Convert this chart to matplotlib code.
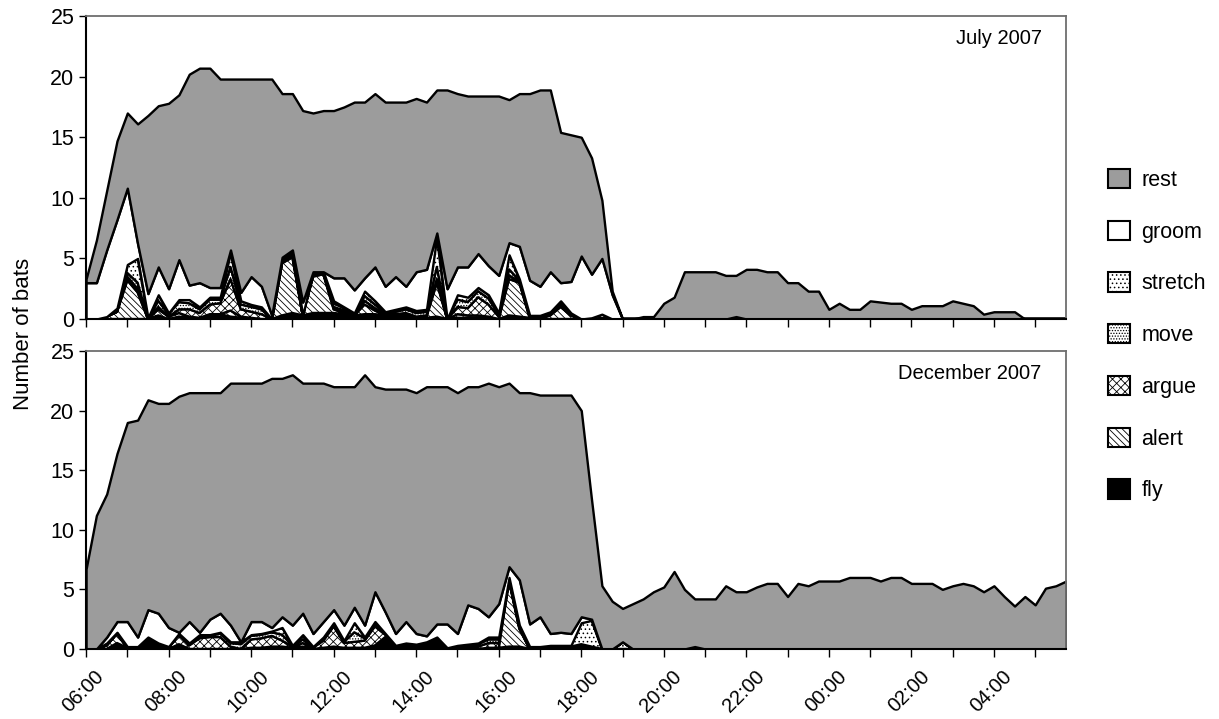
import matplotlib.pyplot as plt
import numpy as np
from matplotlib.patches import Patch
from matplotlib.transforms import ScaledTranslation

plt.rcParams['font.family'] = ['Liberation Sans', 'DejaVu Sans']
plt.rcParams['hatch.linewidth'] = 0.6
plt.rcParams['hatch.color'] = '#333333'

# 15-minute samples, hours after 06:00
hours = np.arange(96) * 0.25

# ---- July 2007 ----
jul_fly = [0, 0, 0, 0, 0, 0, 0, 0.3, 0, 0.2,
           0.1, 0.1, 0.4, 0.4, 0.2, 0.1, 0.1, 0, 0, 0.3,
           0.5, 0.3, 0.5, 0.5, 0.5, 0.4, 0.3, 0.4, 0.4, 0.3,
           0.2, 0.2, 0.1, 0.1, 0.2, 0, 0.1, 0.1, 0.1, 0.1,
           0, 0.3, 0.2, 0.1, 0.1, 0, 0, 0, 0, 0,
           0, 0, 0, 0, 0, 0, 0, 0, 0, 0,
           0, 0, 0, 0, 0, 0, 0, 0, 0, 0,
           0, 0, 0, 0, 0, 0, 0, 0, 0, 0,
           0, 0, 0, 0, 0, 0, 0, 0, 0, 0,
           0, 0, 0, 0, 0, 0]
jul_alert = [0, 0, 0.2, 0.6, 3.2, 2.2, 0, 0.5, 0.2, 0.3,
             0.1, 0, 0, 0, 0.5, 0.1, 0, 0, 0, 4.3,
             4.6, 0, 3.0, 3.2, 0.3, 0.1, 0, 0.8, 0.3, 0,
             0.1, 0.1, 0, 0.1, 2.8, 0, 0.3, 0.2, 0.2, 0.1,
             0, 3.0, 2.8, 0, 0, 0.3, 1.0, 0.3, 0, 0,
             0.1, 0, 0, 0, 0, 0, 0, 0, 0, 0,
             0, 0, 0, 0, 0, 0, 0, 0, 0, 0,
             0, 0, 0, 0, 0, 0, 0, 0, 0, 0,
             0, 0, 0, 0, 0, 0, 0, 0, 0, 0,
             0, 0, 0, 0, 0, 0]
jul_argue = [0, 0, 0, 0, 0.3, 0.3, 0, 0.2, 0, 0.3,
             0.6, 0.4, 0.8, 0.9, 2.6, 0.6, 0.5, 0.4, 0, 0.1,
             0.2, 0, 0.1, 0.1, 0.2, 0.2, 0, 0.3, 0.2, 0.1,
             0.1, 0.2, 0.1, 0.1, 0.3, 0, 0.6, 0.6, 1.5, 1.0,
             0.2, 0.3, 0.1, 0.1, 0, 0.1, 0.1, 0, 0, 0,
             0, 0, 0, 0, 0, 0, 0, 0, 0, 0,
             0, 0, 0, 0, 0, 0, 0, 0, 0, 0,
             0, 0, 0, 0, 0, 0, 0, 0, 0, 0,
             0, 0, 0, 0, 0, 0, 0, 0, 0, 0,
             0, 0, 0, 0, 0, 0]
jul_move = [0, 0, 0, 0, 0.3, 0.5, 0, 0.5, 0.2, 0.6,
            0.5, 0.3, 0.4, 0.3, 1.0, 0.4, 0.4, 0.4, 0, 0.1,
            0.2, 0, 0.1, 0.1, 0.3, 0.2, 0.1, 0.4, 0.3, 0.1,
            0.2, 0.3, 0.3, 0.3, 1.0, 0, 0.6, 0.5, 0.5, 0.5,
            0.2, 0.5, 0.1, 0.1, 0.1, 0.1, 0.2, 0.1, 0, 0,
            0, 0, 0, 0, 0, 0, 0, 0, 0, 0,
            0, 0, 0, 0, 0, 0, 0, 0, 0, 0,
            0, 0, 0, 0, 0, 0, 0, 0, 0, 0,
            0, 0, 0, 0, 0, 0, 0, 0, 0, 0,
            0, 0, 0, 0, 0, 0]
jul_stretch = [0, 0, 0, 0.3, 0.7, 2.0, 0.1, 0.5, 0.1, 0.2,
               0.3, 0.2, 0.2, 0.2, 1.2, 0.3, 0.2, 0.2, 0, 0.2,
               0.1, 0, 0.2, 0, 0.2, 0.1, 0.1, 0.4, 0.3, 0.1,
               0.2, 0.2, 0.2, 0.2, 2.5, 0, 0.4, 0.4, 0.3, 0.3,
               0.1, 1.2, 0.1, 0, 0.1, 0.1, 0.2, 0.1, 0, 0.1,
               0.3, 0, 0, 0, 0, 0, 0, 0, 0, 0,
               0, 0, 0, 0.2, 0, 0, 0, 0, 0, 0,
               0, 0, 0, 0, 0, 0, 0, 0, 0, 0,
               0, 0, 0, 0, 0, 0, 0, 0, 0, 0,
               0, 0, 0, 0, 0, 0]
jul_groom = [3.0, 3.0, 5.5, 7.3, 6.3, 1.2, 2.0, 2.3, 2.0, 3.3,
             1.2, 2.0, 0.8, 0.8, 0.2, 0.7, 2.3, 1.7, 0.3, 0.1,
             0.1, 1.1, 0, 0, 1.9, 2.4, 1.9, 1.1, 2.8, 2.1,
             2.7, 1.7, 3.2, 3.3, 0.3, 2.5, 2.3, 2.5, 2.8, 2.4,
             3.1, 1.0, 2.7, 2.9, 2.4, 3.3, 1.5, 2.6, 5.2, 3.6,
             4.6, 2.0, 0, 0, 0, 0, 0, 0, 0, 0,
             0, 0, 0, 0, 0, 0, 0, 0, 0, 0,
             0, 0, 0, 0, 0, 0, 0, 0, 0, 0,
             0, 0, 0, 0, 0, 0, 0, 0, 0, 0,
             0, 0, 0, 0, 0, 0]
jul_rest = [0.3, 3.5, 4.9, 6.5, 6.2, 9.9, 14.7, 13.3, 15.3, 13.6,
            17.4, 17.7, 18.1, 17.2, 14.1, 17.6, 16.3, 17.1, 19.5, 13.5,
            12.9, 15.8, 13.1, 13.3, 13.8, 14.1, 15.5, 14.5, 14.3, 15.2,
            14.4, 15.2, 14.3, 13.8, 11.8, 16.4, 14.3, 14.1, 13.0, 14.0,
            14.8, 11.8, 12.6, 15.4, 16.2, 15.0, 12.4, 12.1, 9.8, 9.6,
            4.8, 0.3, 0, 0, 0.2, 0.2, 1.3, 1.8, 3.9, 3.9,
            3.9, 3.9, 3.6, 3.4, 4.1, 4.1, 3.9, 3.9, 3.0, 3.0,
            2.3, 2.3, 0.8, 1.3, 0.8, 0.8, 1.5, 1.4, 1.3, 1.3,
            0.8, 1.1, 1.1, 1.1, 1.5, 1.3, 1.1, 0.4, 0.6, 0.6,
            0.6, 0, 0, 0, 0, 0]

# ---- December 2007 ----
dec_fly = [0, 0, 0, 0.5, 0.1, 0.1, 0.6, 0.2, 0, 0.2,
           0, 0, 0, 0, 0, 0, 0.1, 0.1, 0.2, 0.2,
           0.1, 0.2, 0, 0.1, 0.2, 0.1, 0.1, 0.1, 0.3, 1.0,
           0.1, 0.3, 0.2, 0.3, 0.9, 0, 0, 0, 0, 0.1,
           0.1, 0.2, 0.2, 0, 0, 0, 0, 0, 0, 0,
           0, 0, 0, 0, 0, 0, 0, 0, 0, 0.2,
           0, 0, 0, 0, 0, 0, 0, 0, 0, 0,
           0, 0, 0, 0, 0, 0, 0, 0, 0, 0,
           0, 0, 0, 0, 0, 0, 0, 0, 0, 0,
           0, 0, 0, 0, 0, 0]
dec_alert = [0, 0, 0.3, 0.8, 0, 0, 0.2, 0, 0, 0.2,
             0, 0, 0, 0, 0, 0, 0, 0, 0, 0,
             0, 0.3, 0, 0, 0, 0, 0, 0, 0, 0,
             0, 0, 0, 0, 0, 0, 0, 0, 0, 0,
             0, 5.5, 1.5, 0, 0, 0, 0, 0, 0.2, 0,
             0, 0, 0, 0, 0, 0, 0, 0, 0, 0,
             0, 0, 0, 0, 0, 0, 0, 0, 0, 0,
             0, 0, 0, 0, 0, 0, 0, 0, 0, 0,
             0, 0, 0, 0, 0, 0, 0, 0, 0, 0,
             0, 0, 0, 0, 0, 0]
dec_argue = [0, 0, 0, 0, 0, 0, 0.1, 0.1, 0.1, 0.8,
             0.3, 0.9, 1.0, 1.0, 0.2, 0, 0.7, 0.8, 0.9, 0.5,
             0.1, 0.3, 0.1, 0.6, 1.7, 0.4, 0.5, 0.6, 1.6, 0.2,
             0.1, 0.1, 0.1, 0.1, 0, 0, 0.1, 0.2, 0.2, 0.4,
             0.4, 0.1, 0.1, 0, 0, 0.1, 0.1, 0.1, 0, 0,
             0, 0, 0, 0, 0, 0, 0, 0, 0, 0,
             0, 0, 0, 0, 0, 0, 0, 0, 0, 0,
             0, 0, 0, 0, 0, 0, 0, 0, 0, 0,
             0, 0, 0, 0, 0, 0, 0, 0, 0, 0,
             0, 0, 0, 0, 0, 0]
dec_move = [0, 0, 0, 0, 0, 0.1, 0.1, 0.1, 0.1, 0.1,
            0.2, 0.2, 0.1, 0.3, 0.3, 0.4, 0.3, 0.3, 0.3, 0.5,
            0.1, 0.3, 0.1, 0.2, 0.2, 0.1, 0.8, 0.2, 0.2, 0.1,
            0.1, 0.1, 0.1, 0.1, 0, 0, 0.1, 0.1, 0.2, 0.3,
            0.3, 0.1, 0.1, 0.1, 0.1, 0.1, 0.1, 0.1, 0.2, 0.2,
            0, 0, 0, 0, 0, 0, 0, 0, 0, 0,
            0, 0, 0, 0, 0, 0, 0, 0, 0, 0,
            0, 0, 0, 0, 0, 0, 0, 0, 0, 0,
            0, 0, 0, 0, 0, 0, 0, 0, 0, 0,
            0, 0, 0, 0, 0, 0]
dec_stretch = [0, 0, 0.2, 0.1, 0.1, 0, 0, 0.1, 0, 0,
               0, 0.1, 0.1, 0.1, 0.1, 0.2, 0.1, 0.1, 0.1, 0.6,
               0, 0.1, 0, 0.1, 0.1, 0.1, 0.8, 0.1, 0.2, 0,
               0, 0, 0, 0.1, 0.1, 0.1, 0.1, 0.1, 0.1, 0.2,
               0.2, 0.1, 0.1, 0.1, 0.1, 0.1, 0.1, 0.1, 1.8, 2.2,
               0, 0, 0.6, 0, 0, 0, 0, 0, 0, 0,
               0, 0, 0, 0, 0, 0, 0, 0, 0, 0,
               0, 0, 0, 0, 0, 0, 0, 0, 0, 0,
               0, 0, 0, 0, 0, 0, 0, 0, 0, 0,
               0, 0, 0, 0, 0, 0]
dec_groom = [0, 0, 0.5, 0.9, 2.1, 0.8, 2.3, 2.5, 1.6, 0.1,
             1.8, 0.2, 1.3, 1.6, 1.4, 0, 1.1, 1.0, 0.3, 0.9,
             1.7, 1.8, 1.1, 1.3, 1.1, 1.3, 1.3, 1.0, 2.5, 1.8,
             1.0, 1.8, 0.9, 0.5, 1.1, 2.0, 1.0, 3.3, 2.9, 1.7,
             2.8, 0.9, 3.8, 1.9, 2.5, 1.0, 1.1, 1.0, 0.5, 0.1,
             0, 0, 0, 0, 0, 0, 0, 0, 0, 0,
             0, 0, 0, 0, 0, 0, 0, 0, 0, 0,
             0, 0, 0, 0, 0, 0, 0, 0, 0, 0,
             0, 0, 0, 0, 0, 0, 0, 0, 0, 0,
             0, 0, 0, 0, 0, 0]
dec_rest = [6.7, 11.2, 12.0, 14.1, 16.7, 18.2, 17.6, 17.6, 18.8, 19.8,
            19.2, 20.1, 19.0, 18.5, 20.3, 21.7, 20.0, 20.0, 20.9, 20.0,
            21.0, 19.3, 21.0, 20.0, 18.7, 20.0, 18.5, 21.0, 17.2, 18.7,
            20.5, 19.5, 20.2, 20.9, 19.9, 19.9, 20.2, 18.3, 18.6, 19.6,
            18.2, 15.4, 15.7, 19.4, 18.6, 20.0, 19.9, 20.0, 17.3, 10.0,
            5.3, 4.0, 2.8, 3.8, 4.2, 4.8, 5.2, 6.5, 5.0, 4.0,
            4.2, 4.2, 5.3, 4.8, 4.8, 5.2, 5.5, 5.5, 4.4, 5.5,
            5.3, 5.7, 5.7, 5.7, 6.0, 6.0, 6.0, 5.7, 6.0, 6.0,
            5.5, 5.5, 5.5, 5.0, 5.3, 5.5, 5.3, 4.8, 5.3, 4.4,
            3.6, 4.4, 3.7, 5.1, 5.3, 5.7]

behaviours = ['fly', 'alert', 'argue', 'move', 'stretch', 'groom', 'rest']
faces = {'fly': 'black', 'alert': 'white', 'argue': 'white', 'move': 'white',
         'stretch': 'white', 'groom': 'white', 'rest': '#9c9c9c'}
hatches = {'fly': None, 'alert': '\\\\\\\\\\', 'argue': 'xxxx', 'move': '......',
           'stretch': '....', 'groom': None, 'rest': None}

panels = [
    ('July 2007', [jul_fly, jul_alert, jul_argue, jul_move, jul_stretch, jul_groom, jul_rest]),
    ('December 2007', [dec_fly, dec_alert, dec_argue, dec_move, dec_stretch, dec_groom, dec_rest]),
]

fig = plt.figure(figsize=(12.19, 7.19), dpi=100)
ax_top = fig.add_axes([0.0706, 0.5563, 0.804, 0.4214])
ax_bot = fig.add_axes([0.0706, 0.0974, 0.804, 0.4145])

hour_ticks = np.arange(24)
hour_labels = ['%02d:00' % ((6 + h) % 24) if h % 2 == 0 else '' for h in hour_ticks]

for ax, (title, series) in zip([ax_top, ax_bot], panels):
    polys = ax.stackplot(hours, *series, colors=[faces[b] for b in behaviours],
                         edgecolor='black', linewidth=1.7)
    for poly, b in zip(polys, behaviours):
        if hatches[b]:
            poly.set_hatch(hatches[b])
    ax.set_xlim(0, 23.75)
    ax.set_ylim(0, 25)
    ax.set_yticks([0, 5, 10, 15, 20, 25])
    ax.set_xticks(hour_ticks)
    ax.tick_params(direction='out', length=5, width=1, labelsize=15.5, colors='black')
    ax.tick_params(axis='x', length=6, pad=7)
    for side in ['top', 'right']:
        ax.spines[side].set_color('#6e6e6e')
        ax.spines[side].set_linewidth(1.3)
    for side in ['left', 'bottom']:
        ax.spines[side].set_color('black')
        ax.spines[side].set_linewidth(1.5)
    ax.text(0.975, 0.925, title, transform=ax.transAxes, ha='right', va='center',
            fontsize=14.5)

ax_top.set_xticklabels([])
ax_bot.set_xticklabels(hour_labels, rotation=45, ha='right', va='top',
                       rotation_mode='anchor', fontsize=14.5)
shift = ScaledTranslation(6 / 72, 0, fig.dpi_scale_trans)
for lab in ax_bot.get_xticklabels():
    lab.set_transform(lab.get_transform() + shift)

fig.text(0.019, 0.535, 'Number of bats', rotation=90, ha='center', va='center',
         fontsize=16)

handles = [Patch(facecolor=faces[b], edgecolor='black', linewidth=1.5,
                 hatch=hatches[b], label=b) for b in behaviours[::-1]]
fig.legend(handles=handles, loc='upper left', bbox_to_anchor=(0.909, 0.765),
           frameon=False, fontsize=15.5, handlelength=1.0, handleheight=1.0,
           handletextpad=0.55, labelspacing=1.38, borderpad=0, borderaxespad=0)

fig.savefig('out.png', dpi=100)
